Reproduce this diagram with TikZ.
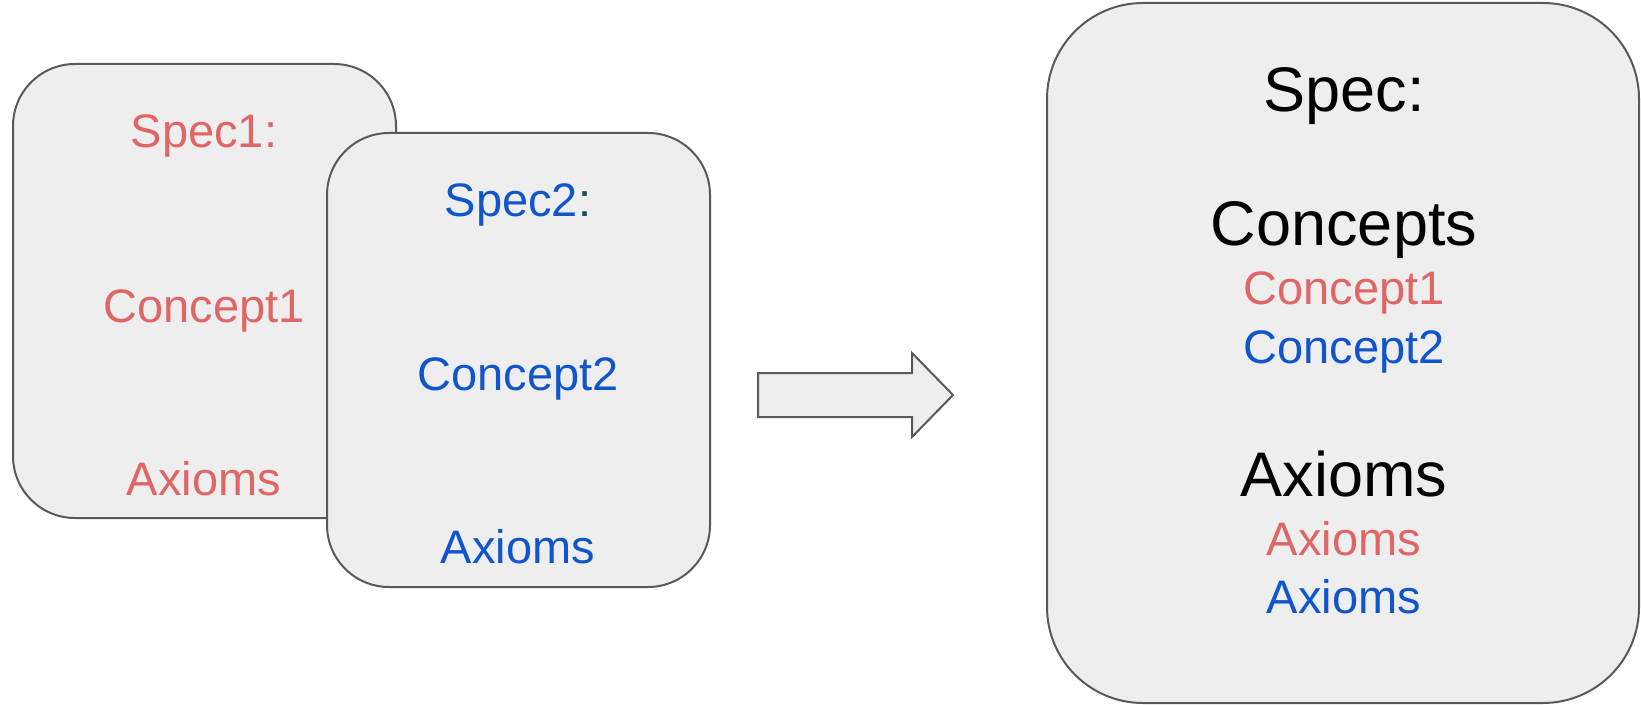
\documentclass[tikz,border=0pt]{standalone}
\usepackage{fontspec}
\setmainfont{Liberation Sans}
\usepackage{xcolor}
\usepackage{tikz}
\usetikzlibrary{positioning}
\definecolor{myred}{RGB}{224,102,102}
\definecolor{myblue}{RGB}{17,85,204}
\definecolor{mycolon}{RGB}{19,79,92}
\definecolor{mygray}{RGB}{238,238,238}
\definecolor{myedge}{RGB}{89,89,89}
\newcommand{\smallfs}{\fontsize{23.5}{28}\selectfont}
\newcommand{\bigfs}{\fontsize{31.5}{38}\selectfont}
\tikzset{
  specbox/.style={draw=myedge, fill=mygray, line width=1pt, rounded corners=31pt},
  bigbox/.style={draw=myedge, fill=mygray, line width=1pt, rounded corners=48pt},
  blockarrow/.style={draw=myedge, fill=mygray, line width=1pt},
  label/.style={anchor=base, inner sep=0pt, font=\smallfs},
  redlabel/.style={label, text=myred},
  bluelabel/.style={label, text=myblue},
  headlabel/.style={anchor=base, inner sep=0pt, font=\bigfs, text=black}
}

\begin{document}
\begin{tikzpicture}[x=0.5pt, y=-0.5pt]
  \useasboundingbox (0,0) rectangle (1641,705);

  % Draw first spec (red)
  \draw[specbox] (13,64) rectangle (396,518);
  \node[redlabel] (spec1) at (204,148) {Spec1:};
  \node[redlabel] (concept1) at (204,322) {Concept1};
  \node[redlabel] (axioms1) at (204,495) {Axioms};

  % Draw second spec (blue), on top of the first
  \draw[specbox] (327,133) rectangle (710,587);
  \node[bluelabel] (spec2) at (518,217) {Spec2\textcolor{mycolon}{:}};
  \node[bluelabel] (concept2) at (518,390) {Concept2};
  \node[bluelabel] (axioms2) at (518,563) {Axioms};

  % Draw block arrow
  \draw[blockarrow] (758,373) -- (912,373) -- (912,353) -- (953,395)
    -- (912,437) -- (912,417) -- (758,417) -- cycle;

  % Draw merged spec
  \draw[bigbox] (1047,3) rectangle (1639,703);
  \node[headlabel] (spec) at (1344,112) {Spec:};
  \node[headlabel] (concepts) at (1344,246) {Concepts};
  \node[redlabel] (mconcept1) at (1344,305) {Concept1};
  \node[bluelabel] (mconcept2) at (1344,363) {Concept2};
  \node[headlabel] (axioms) at (1344,496) {Axioms};
  \node[redlabel] (maxioms1) at (1344,555) {Axioms};
  \node[bluelabel] (maxioms2) at (1344,613) {Axioms};
\end{tikzpicture}
\end{document}
